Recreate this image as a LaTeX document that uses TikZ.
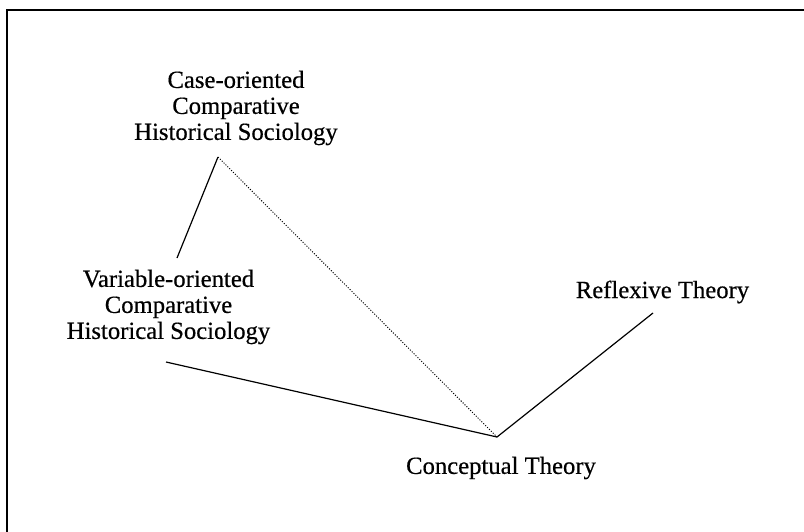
\documentclass[tikz,border=0pt]{standalone}
\usepackage{fontspec}
\setmainfont{Liberation Serif}
\newfontfamily\labelfont[FakeBold=0.5]{Liberation Serif}
\begin{document}
\begin{tikzpicture}[x=0.75pt,y=-0.75pt,
  label/.style={align=center,inner sep=0pt,font=\labelfont\fontsize{18.5}{19.5}\selectfont},
  solidline/.style={line width=0.9pt},
  dotline/.style={line width=0.7pt,dash pattern=on 0.8pt off 1.2pt},
  frameline/.style={line width=1.3pt}]
\useasboundingbox (0,0) rectangle (804,532);
% frame: only the top and left edges lie inside the page
\draw[frameline] (7,532) -- (7,10) -- (804,10);

% labels
\node[label] (cos) at (236,108) {Case-oriented\\Comparative\\Historical Sociology};
\node[label] (vos) at (168.5,307) {Variable-oriented\\Comparative\\Historical Sociology};
\node[label] (rt)  at (662.5,292) {Reflexive Theory};
\node[label] (ct)  at (501,468) {Conceptual Theory};

% connector end points
\coordinate (apex)   at (218,157);
\coordinate (vtop)   at (177,258);
\coordinate (vbot)   at (166,362);
\coordinate (vertex) at (497,437);
\coordinate (rend)   at (653,313);

\draw[solidline] (vtop) -- (apex);
\draw[dotline] (apex) -- (vertex);
\draw[solidline] (vbot) -- (vertex) -- (rend);
\end{tikzpicture}
\end{document}
